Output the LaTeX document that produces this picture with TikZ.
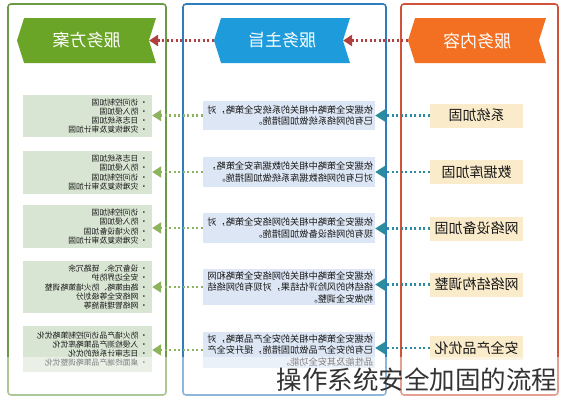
\documentclass[tikz,border=0pt]{standalone}
\usepackage{fontspec,graphicx}
\setmainfont{Noto Sans CJK SC}
\usetikzlibrary{arrows.meta,shapes.symbols}
\definecolor{greenline}{HTML}{6A9A46}
\definecolor{greenhead}{HTML}{6BA528}
\definecolor{greenbox}{HTML}{D9E5D3}
\definecolor{blueline}{HTML}{2E7DBF}
\definecolor{bluehead}{HTML}{1E9BDB}
\definecolor{bluebox}{HTML}{DCE6F4}
\definecolor{redline}{HTML}{D0523A}
\definecolor{redhead}{HTML}{F36F21}
\definecolor{redbox}{HTML}{FAEBCB}
\definecolor{headdots}{HTML}{B23F3F}
\definecolor{greendots}{HTML}{8DB45C}
\definecolor{tealdots}{HTML}{2A8C9E}
\newcommand{\mirrorpar}[2]{\reflectbox{\parbox{#1}{\raggedright #2}}}

\begin{document}
\begin{tikzpicture}[x=1pt,y=-1pt,>=Triangle,
  colframe/.style={line width=1.6pt,rounded corners=3pt},
  ribbon/.style={signal,signal to=west,signal from=east,signal pointer angle=145,minimum height=45pt,inner sep=0pt,text=white,font=\fontsize{17}{17}\selectfont},
  plan/.style={fill=greenbox,minimum width=129pt,inner sep=4pt,text=black!90,font=\fontsize{7.8}{9.2}\selectfont},
  aim/.style={fill=bluebox,minimum width=172pt,inner sep=2pt,text=black!90,font=\fontsize{9.2}{11.5}\selectfont},
  item/.style={fill=redbox,minimum width=93pt,minimum height=24pt,inner sep=0pt,text=black!90,font=\fontsize{14}{14}\selectfont},
  dots/.style={line width=2.2pt,dash pattern=on 2.2pt off 2.3pt},
  headlink/.style={dots,headdots,->,>={Triangle[length=9pt,width=11pt]}},
  planlink/.style={dots,greendots,->,>={Triangle[length=9pt,width=11pt]}},
  itemlink/.style={dots,tealdots,->,>={Triangle[length=10pt,width=12pt]}}]
\useasboundingbox (0,0) rectangle (563,400);
\fill[white] (0,0) rectangle (563,400);
% column frames
\draw[colframe,greenline] (8,4) rectangle (166,395);
\draw[colframe,blueline] (183,4) rectangle (386,395);
\draw[colframe,redline] (401,4) rectangle (558,395);
% headers
\node[ribbon,fill=greenhead,minimum width=139pt] (plan) at (86.5,40.5) {\reflectbox{服务方案}};
\node[ribbon,fill=bluehead,minimum width=136pt] (aim) at (282,40.5) {\reflectbox{服务主旨}};
\node[ribbon,fill=redhead,minimum width=138pt] (item) at (477,40.5) {\reflectbox{服务内容}};
\draw[headlink] (aim.west) -- (plan.east);
\draw[headlink] (item.west) -- (aim.east);
% left column
\node[plan,minimum height=42pt] (plan1) at (87.5,116) {\mirrorpar{121pt}{• 访问控制加固\\• 防入侵加固\\• 日志系统加固\\• 灾难恢复及审计加固}};
\node[plan,minimum height=41pt] (plan2) at (87.5,172.5) {\mirrorpar{121pt}{• 日志系统加固\\• 防入侵加固\\• 访问控制加固\\• 灾难恢复及审计加固}};
\node[plan,minimum height=41pt] (plan3) at (87.5,226.5) {\mirrorpar{121pt}{• 访问控制加固\\• 防入侵加固\\• 防火墙设备加固\\• 灾难恢复及审计加固}};
\node[plan,minimum height=52pt] (plan4) at (87.5,287) {\mirrorpar{121pt}{• 设备冗余、链路冗余\\• 安全边界防护\\• 路由策略、防火墙策略调整\\• 网络安全等级划分\\• 网络管理措施等}};
\node[plan,minimum height=46pt] (plan5) at (87.5,349) {\mirrorpar{121pt}{• 防火墙产品访问控制策略优化\\• 入侵检测产品策略库优化\\• 日志审计系统的优化\\• 桌面终端产品策略调整优化}};
% middle column
\node[aim,minimum height=29pt] (aim1) at (289,115.5) {\mirrorpar{168pt}{依据安全策略中相关的系统安全策略，对\\已有的网络系统做加固措施。}};
\node[aim,minimum height=30pt] (aim2) at (289,172) {\mirrorpar{168pt}{依据安全策略中相关的数据库安全策略，\\对已有的网络数据库系统做加固措施。}};
\node[aim,minimum height=30pt] (aim3) at (289,228) {\mirrorpar{168pt}{依据安全策略中相关的网络安全策略，对\\现有的网络设备做加固措施。}};
\node[aim,minimum height=34pt] (aim4) at (289,287) {\mirrorpar{168pt}{依据安全策略中相关的网络安全策略和网\\络结构的风险评估结果，对现有的网络结\\构做安全调整。}};
\node[aim,minimum height=36pt] (aim5) at (289,350) {\mirrorpar{168pt}{依据安全策略中相关的安全产品策略，对\\已有的安全产品做加固措施，提升安全产\\品性能及其安全功能。}};
% right column
\node[item] (item1) at (476.5,115.5) {\reflectbox{系统加固}};
\node[item] (item2) at (476.5,172) {\reflectbox{数据库加固}};
\node[item] (item3) at (476.5,228.5) {\reflectbox{网络设备加固}};
\node[item] (item4) at (476.5,284.5) {\reflectbox{网络结构调整}};
\node[item] (item5) at (476.5,348) {\reflectbox{安全产品优化}};
\foreach \r in {1,...,5} {
  \draw[planlink] (aim\r.west) -- (aim\r.west -| plan\r.east);
  \draw[itemlink] (item\r.west) -- (item\r.west -| aim\r.east);
}
% caption band
\fill[white,opacity=.45] (0,357) rectangle (563,400);
\node[text=black!80,font=\fontsize{25.5}{25.5}\selectfont,anchor=east] (caption) at (561,380) {操作系统安全加固的流程};
\end{tikzpicture}
\end{document}
